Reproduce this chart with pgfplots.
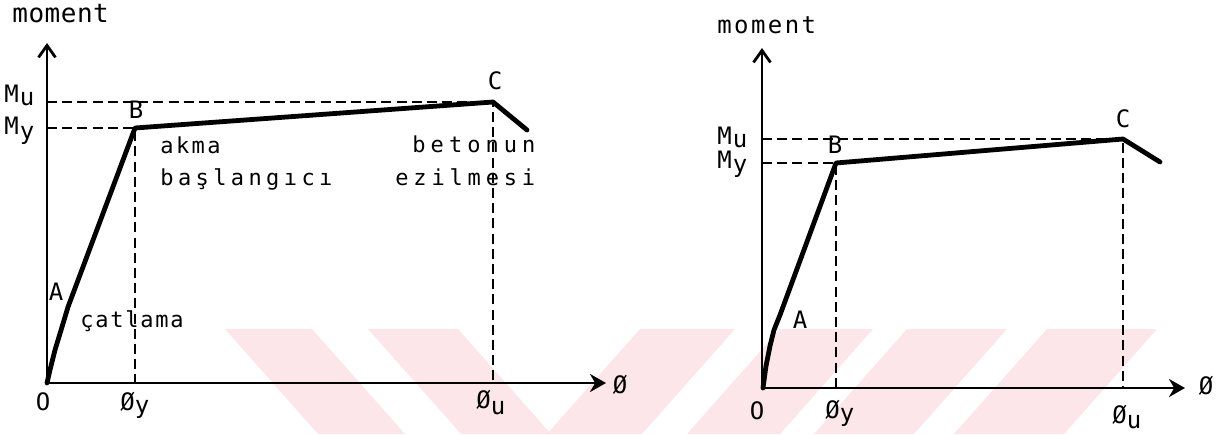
\documentclass[border=0pt]{standalone}
\usepackage{fontspec}
\setmainfont{DejaVu Sans Mono}
\usepackage{pgfplots}
\pgfplotsset{compat=1.18}
\usetikzlibrary{arrows.meta}

\definecolor{wmpink}{RGB}{252,230,233}

% font size and letter spacing for the annotations
\newcommand{\lab}[2]{\fontsize{#1}{#1}\selectfont\addfontfeature{LetterSpace=#2}}
\newcommand{\capf}{\fontsize{12pt}{12pt}\selectfont}

\pgfplotsset{
  mcurve/.style={
    axis lines=left, x=0.5pt, y=0.5pt, xmin=0, ymin=0,
    enlargelimits=false, clip=false, anchor=south west,
    xtick=\empty, yticklabels={\empty,\empty}, tick align=inside, major tick length=3.5pt,
    tick style={black, line width=1.1pt},
    axis line style={black, line width=1.4pt},
    y axis line style={-{Straight Barb[length=6pt,width=8.5pt]}},
    x axis line style={-{Stealth[length=8pt,width=9pt]}},
  },
  mline/.style={black, line width=2.4pt, line join=round, line cap=round, no markers},
  mdash/.style={black, line width=1.1pt, dash pattern=on 5pt off 2.6pt, no markers},
}

\begin{document}
\begin{tikzpicture}
\path[use as bounding box] (0,0) rectangle (608pt,-217pt);

% background stripes
\begin{scope}[x=0.5pt,y=-0.5pt]
  \fill[wmpink] (225,329) -- (312,329) -- (405,434) -- (318,434) -- cycle;
  \fill[wmpink] (368,329) -- (458,329) -- (551,434) -- (461,434) -- cycle;
  \fill[wmpink] (640,329) -- (735,329) -- (642,434) -- (547,434) -- cycle;
  \fill[wmpink] (780,329) -- (873,329) -- (780,434) -- (687,434) -- cycle;
  \fill[wmpink] (907,329) -- (1007,329) -- (914,434) -- (814,434) -- cycle;
  \fill[wmpink] (1047,329) -- (1157,329) -- (1064,434) -- (954,434) -- cycle;
\end{scope}

% left moment-curvature diagram
\begin{axis}[mcurve, at={(23.5pt,-191.5pt)}, xmax=559, ymax=340, ytick={255,281}]
  \addplot[mdash] coordinates {(0,255) (88,255) (88,0)};
  \addplot[mdash] coordinates {(0,281) (446,281) (446,0)};
  \addplot[mline] coordinates {(0,0) (3,13) (8,33) (15,56) (21,76) (88,255) (446,281) (480,253)};
\end{axis}

% right moment-curvature diagram
\begin{axis}[mcurve, at={(381pt,-194pt)}, xmax=423, ymax=340, ytick={225,249}]
  \addplot[mdash] coordinates {(0,225) (74,225) (74,0)};
  \addplot[mdash] coordinates {(0,249) (361,249) (361,0)};
  \addplot[mline] coordinates {(1,0) (4,22) (8,42) (12,58) (18,73) (74,225) (361,249) (398,226)};
\end{axis}

\begin{scope}[x=0.5pt,y=-0.5pt, every node/.style={inner sep=0pt}]
  % left panel labels
  \node[anchor=base west] at (12,22) {\lab{13pt}{2}moment};
  \node[anchor=base west] at (4,102) {\capf M\kern0.5pt\raisebox{-1.5pt}{u}};
  \node[anchor=base west] at (4,134) {\capf M\kern0.5pt\raisebox{-2.5pt}{y}};
  \node at (56,292) {\capf A};
  \node at (136,110) {\capf B};
  \node at (495,81) {\capf C};
  \node at (43,402) {\capf O};
  \node[anchor=base west] at (120,410) {\capf Ø\raisebox{-1.5pt}{y}};
  \node[anchor=base west] at (476,408) {\capf Ø\raisebox{-3pt}{u}};
  \node at (620,385) {\capf Ø};
  \node[anchor=base west] at (160,153) {\lab{11pt}{11}akma};
  \node[anchor=base west] at (160,185) {\lab{11pt}{20}başlangıcı};
  \node[anchor=base west] at (80,327) {\lab{11pt}{8}çatlama};
  \node[anchor=base west] at (412,152) {\lab{11pt}{23}betonun};
  \node[anchor=base west] at (395,185) {\lab{11pt}{22}ezilmesi};
  % right panel labels
  \node[anchor=base west] at (717,33) {\lab{12pt}{10}moment};
  \node[anchor=base west] at (717,144) {\capf M\kern0.5pt\raisebox{-1.5pt}{u}};
  \node[anchor=base west] at (717,168) {\capf M\kern0.5pt\raisebox{-2pt}{y}};
  \node at (800,320) {\capf A};
  \node at (835,145) {\capf B};
  \node at (1123,119) {\capf C};
  \node at (757,411) {\capf O};
  \node[anchor=base west] at (825,418) {\capf Ø\raisebox{-1.5pt}{y}};
  \node[anchor=base west] at (1112,423) {\capf Ø\raisebox{-2.5pt}{u}};
  \node at (1206,386) {\capf Ø};
\end{scope}
\end{tikzpicture}
\end{document}
